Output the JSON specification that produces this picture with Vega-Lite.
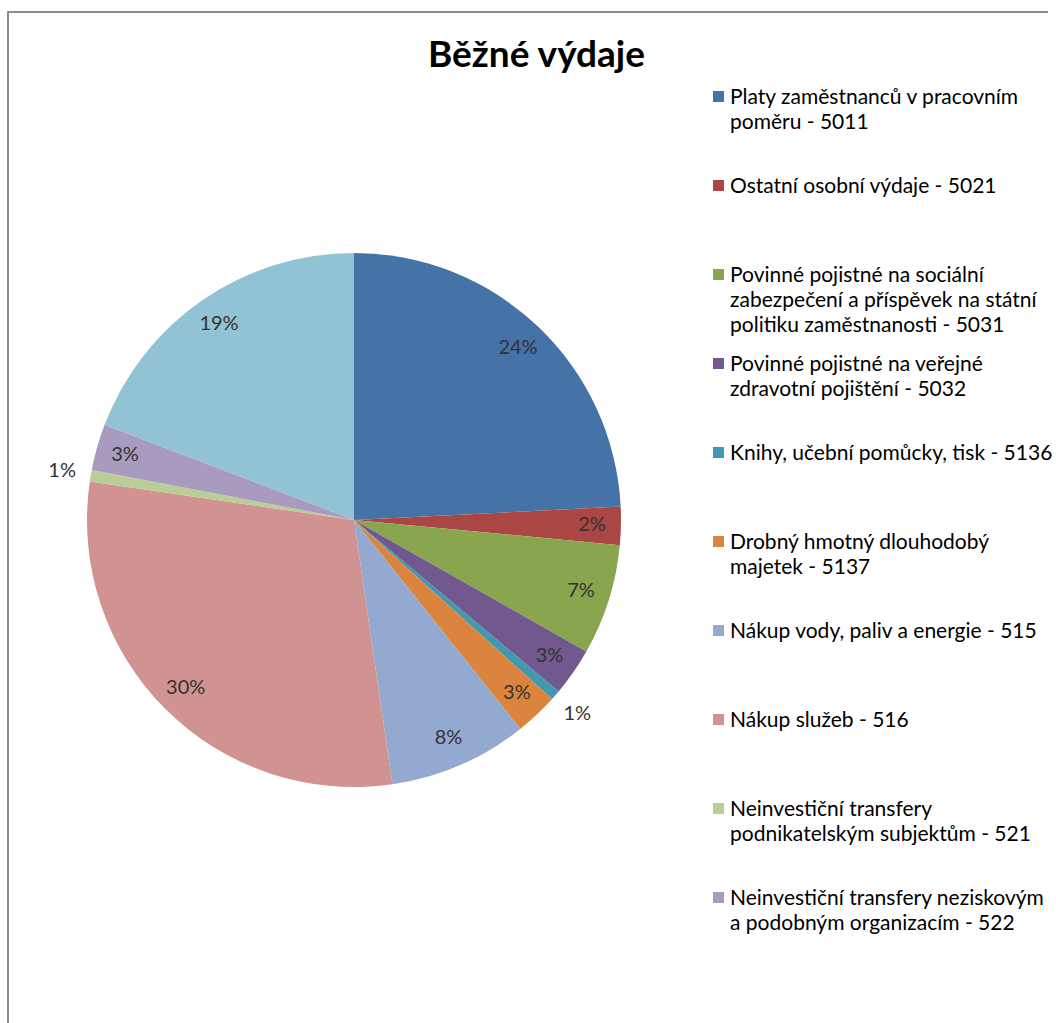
{
  "$schema": "https://vega.github.io/schema/vega-lite/v6.json",
  "autosize": {"type": "none"},
  "width": 1040,
  "height": 1011,
  "padding": {"left": 8, "top": 12, "right": 8, "bottom": 0},
  "background": "white",
  "view": {"stroke": "#8c8c8c", "strokeWidth": 2, "fill": null, "strokeDash": [1040, 2051, 1011, 1]},
  "config": {"font": "Lato", "style": {"guide-label": {"lineHeight": 25, "dy": -10}}},
  "title": {"text": "Běžné výdaje", "fontSize": 37, "fontWeight": "bold", "font": "Lato", "color": "#000000", "anchor": "start", "frame": "group", "dx": 420, "dy": 63, "offset": 0},
  "data": {"values": [
    {"idx": 1, "category": "Platy zaměstnanců v pracovním poměru - 5011", "share": 0.242},
    {"idx": 2, "category": "Ostatní osobní výdaje - 5021", "share": 0.023},
    {"idx": 3, "category": "Povinné pojistné na sociální zabezpečení a příspěvek na státní politiku zaměstnanosti - 5031", "share": 0.067},
    {"idx": 4, "category": "Povinné pojistné na veřejné zdravotní pojištění - 5032", "share": 0.029},
    {"idx": 5, "category": "Knihy, učební pomůcky, tisk - 5136", "share": 0.006},
    {"idx": 6, "category": "Drobný hmotný dlouhodobý majetek - 5137", "share": 0.026},
    {"idx": 7, "category": "Nákup vody, paliv a energie - 515", "share": 0.084},
    {"idx": 8, "category": "Nákup služeb - 516", "share": 0.296},
    {"idx": 9, "category": "Neinvestiční transfery podnikatelským subjektům - 521", "share": 0.007},
    {"idx": 10, "category": "Neinvestiční transfery  neziskovým a podobným organizacím - 522", "share": 0.028},
    {"idx": 11, "category": "Ostatní", "share": 0.192}
  ]},
  "encoding": {
    "theta": {"field": "share", "type": "quantitative", "stack": true},
    "order": {"field": "idx", "type": "quantitative"}
  },
  "layer": [
    {
      "mark": {"type": "arc", "x": 346, "y": 508, "outerRadius": 267, "stroke": null},
      "encoding": {
        "color": {
          "field": "category", "type": "nominal",
          "scale": {
            "domain": ["Platy zaměstnanců v pracovním poměru - 5011", "Ostatní osobní výdaje - 5021", "Povinné pojistné na sociální zabezpečení a příspěvek na státní politiku zaměstnanosti - 5031", "Povinné pojistné na veřejné zdravotní pojištění - 5032", "Knihy, učební pomůcky, tisk - 5136", "Drobný hmotný dlouhodobý majetek - 5137", "Nákup vody, paliv a energie - 515", "Nákup služeb - 516", "Neinvestiční transfery podnikatelským subjektům - 521", "Neinvestiční transfery  neziskovým a podobným organizacím - 522", "Ostatní"],
            "range": ["#4572A7", "#AA4643", "#89A54E", "#71588F", "#4198AF", "#DB843D", "#93A9CF", "#D19392", "#B9CD96", "#A99BBD", "#92C3D4"]
          },
          "legend": {
            "title": null,
            "orient": "none",
            "legendX": 700,
            "legendY": 74,
            "values": ["Platy zaměstnanců v pracovním poměru - 5011", "Ostatní osobní výdaje - 5021", "Povinné pojistné na sociální zabezpečení a příspěvek na státní politiku zaměstnanosti - 5031", "Povinné pojistné na veřejné zdravotní pojištění - 5032", "Knihy, učební pomůcky, tisk - 5136", "Drobný hmotný dlouhodobý majetek - 5137", "Nákup vody, paliv a energie - 515", "Nákup služeb - 516", "Neinvestiční transfery podnikatelským subjektům - 521", "Neinvestiční transfery  neziskovým a podobným organizacím - 522"],
            "symbolType": "square",
            "symbolSize": 121,
            "symbolStrokeWidth": 0,
            "labelFont": "Lato",
            "labelFontSize": 21,
            "labelColor": "#000000",
            "labelLimit": 0,
            "labelBaseline": "top",
            "labelOffset": 1,
            "rowPadding": 17,
            "labelExpr": "datum.label == 'Platy zaměstnanců v pracovním poměru - 5011' ? ['Platy zaměstnanců v pracovním', 'poměru - 5011', ''] : datum.label == 'Povinné pojistné na sociální zabezpečení a příspěvek na státní politiku zaměstnanosti - 5031' ? ['Povinné pojistné na sociální', 'zabezpečení a příspěvek na státní', 'politiku zaměstnanosti - 5031'] : datum.label == 'Povinné pojistné na veřejné zdravotní pojištění - 5032' ? ['Povinné pojistné na veřejné', 'zdravotní pojištění - 5032', ''] : datum.label == 'Drobný hmotný dlouhodobý majetek - 5137' ? ['Drobný hmotný dlouhodobý', 'majetek - 5137', ''] : datum.label == 'Neinvestiční transfery podnikatelským subjektům - 521' ? ['Neinvestiční transfery', 'podnikatelským subjektům - 521', ''] : datum.label == 'Neinvestiční transfery  neziskovým a podobným organizacím - 522' ? ['Neinvestiční transfery   neziskovým', 'a podobným organizacím - 522', ''] : [datum.label, '', '']"
          }
        }
      }
    },
    {
      "mark": {"type": "text", "x": 346, "y": 508, "radius": 238, "font": "Lato", "fontSize": 20, "color": "#333333"},
      "encoding": {
        "text": {"condition": {"test": "datum.share < 0.01", "value": ""}, "field": "share", "type": "quantitative", "format": ".0%"}
      }
    },
    {
      "mark": {"type": "text", "x": 346, "y": 508, "radius": 296, "font": "Lato", "fontSize": 20, "color": "#333333"},
      "encoding": {
        "text": {"condition": {"test": "datum.share >= 0.01", "value": ""}, "field": "share", "type": "quantitative", "format": ".0%"}
      }
    }
  ]
}
